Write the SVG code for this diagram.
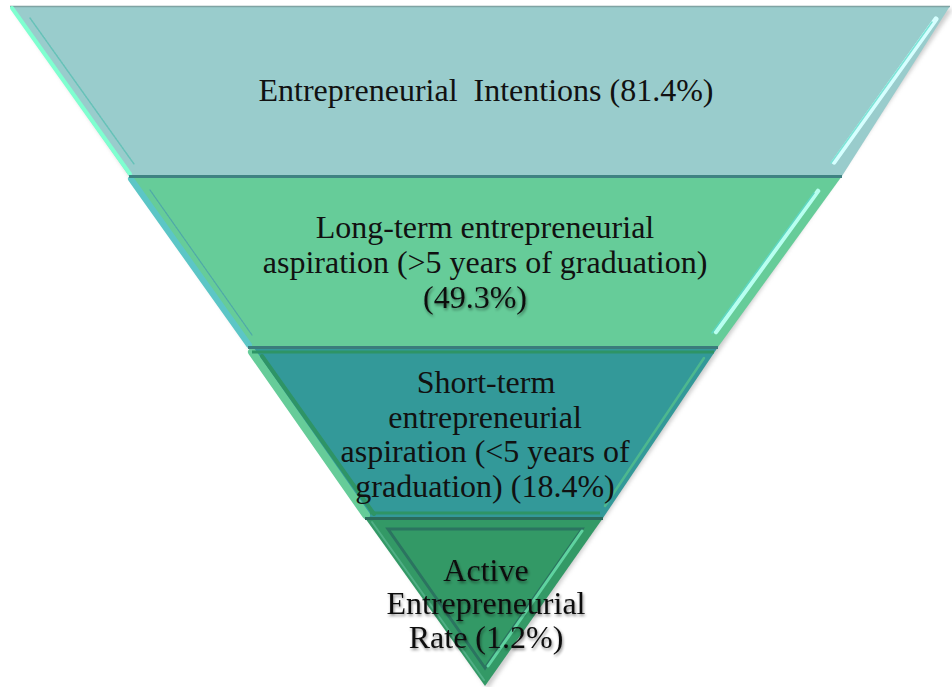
<svg xmlns="http://www.w3.org/2000/svg" width="952" height="687" viewBox="0 0 952 687">
  <defs>
    <filter id="shadow" x="-5%" y="-5%" width="110%" height="110%">
      <feGaussianBlur stdDeviation="2"/>
    </filter>
    <filter id="glow" x="-10%" y="-20%" width="120%" height="140%">
      <feGaussianBlur in="SourceAlpha" stdDeviation="1.6" result="b"/>
      <feOffset in="b" dx="1" dy="2" result="o"/>
      <feComponentTransfer in="o" result="s"><feFuncA type="linear" slope="0.45"/></feComponentTransfer>
      <feMerge><feMergeNode in="s"/><feMergeNode in="SourceGraphic"/></feMerge>
    </filter>
  </defs>
  <style>
    text { font-family: "Liberation Serif", "Times New Roman", serif; font-size: 32px; fill: #111; text-anchor: middle; }
    .hl { stroke-linecap: round; fill: none; }
  </style>

  <rect width="952" height="687" fill="#ffffff"/>

  <!-- soft shadow behind the whole funnel -->
  <polygon points="13,9 953,9 488,689" fill="#9a9a9a" opacity="0.5" filter="url(#shadow)"/>

  <!-- level 1 -->
  <g id="level-intentions">
    <polygon points="10,6 950,6 842,176 129,176" fill="#99CCCC"/>
    <line x1="10" y1="6.5" x2="950" y2="6.5" stroke="#7FA3A3" stroke-width="1.5"/>
    <line x1="12" y1="8" x2="130" y2="174" stroke="#7FFFD0" stroke-width="4" class="hl"/>
    <line x1="30" y1="18" x2="134" y2="164" stroke="#66C2B8" stroke-width="1.5" stroke-dasharray="2 1" class="hl"/>
    <line x1="936" y1="19" x2="834" y2="162" stroke="#D6FFFF" stroke-width="5" class="hl"/>
    <line x1="932" y1="22" x2="831" y2="163" stroke="#7CE3D6" stroke-width="1.5" class="hl"/>
    <text font-family="Liberation Serif, serif" x="486" y="101" xml:space="preserve">Entrepreneurial  Intentions (81.4%)</text>
  </g>

  <!-- level 2 -->
  <g id="level-long-term">
    <polygon points="129,176 842,176 718,347 248,347" fill="#66CC99"/>
    <line x1="131" y1="179" x2="249" y2="345" stroke="#5CC6C6" stroke-width="6" class="hl"/>
    <line x1="150" y1="190" x2="252" y2="335" stroke="#4FA8A8" stroke-width="1.2" stroke-dasharray="2 1" class="hl"/>
    <line x1="818" y1="191" x2="716" y2="332" stroke="#B8FFF0" stroke-width="4.5" class="hl"/>
    <line x1="814" y1="193" x2="712" y2="333" stroke="#5ED6C0" stroke-width="1.5" class="hl"/>
    <line x1="129" y1="176.5" x2="842" y2="176.5" stroke="#3F8282" stroke-width="3"/>
    <text font-family="Liberation Serif, serif" x="485" y="238">Long-term entrepreneurial</text>
    <text font-family="Liberation Serif, serif" x="485" y="273">aspiration (&gt;5 years of graduation)</text>
    <text font-family="Liberation Serif, serif" x="475" y="308" filter="url(#glow)">(49.3%)</text>
  </g>

  <!-- level 3 -->
  <g id="level-short-term">
    <polygon points="248,347 718,347 603,518 365,518" fill="#339999"/>
    <line x1="252" y1="352" x2="366" y2="515" stroke="#66CC99" stroke-width="8" class="hl"/>
    <line x1="262" y1="356" x2="374" y2="514" stroke="#2E9466" stroke-width="4" class="hl"/>
    <line x1="252" y1="352" x2="714" y2="352" stroke="#2E9466" stroke-width="3"/>
    <line x1="704" y1="358" x2="605" y2="506" stroke="#4DB88F" stroke-width="2.5" class="hl"/>
    <line x1="370" y1="513" x2="600" y2="513" stroke="#2E9466" stroke-width="3"/>
    <line x1="248" y1="347.5" x2="718" y2="347.5" stroke="#3A7C7C" stroke-width="3"/>
    <text font-family="Liberation Serif, serif" x="486" y="393">Short-term</text>
    <text font-family="Liberation Serif, serif" x="485" y="428">entrepreneurial</text>
    <text font-family="Liberation Serif, serif" x="485" y="462">aspiration (&lt;5 years of</text>
    <text font-family="Liberation Serif, serif" x="485" y="497">graduation) (18.4%)</text>
  </g>

  <!-- level 4 -->
  <g id="level-active">
    <polygon points="365,518 603,518 485,686" fill="#339966"/>
    <polygon points="388,529 582,529 485,668" fill="none" stroke="#2B7460" stroke-width="3"/>
    <line x1="582" y1="531" x2="488" y2="666" stroke="#5FD3A0" stroke-width="3" class="hl"/>
    <line x1="372" y1="522" x2="484" y2="680" stroke="#4FAF85" stroke-width="2" class="hl"/>
    <line x1="365" y1="518.5" x2="603" y2="518.5" stroke="#2A6B5B" stroke-width="3"/>
    <g filter="url(#glow)">
      <text font-family="Liberation Serif, serif" x="486" y="581">Active</text>
      <text font-family="Liberation Serif, serif" x="486" y="614">Entrepreneurial</text>
      <text font-family="Liberation Serif, serif" x="486" y="648">Rate (1.2%)</text>
    </g>
  </g>
</svg>
